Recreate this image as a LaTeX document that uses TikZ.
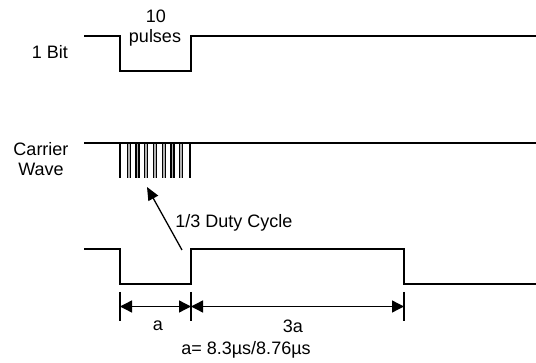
\documentclass[tikz,border=0pt]{standalone}
\usepackage{fontspec}
\setmainfont{Liberation Sans}
\usetikzlibrary{arrows.meta}
\begin{document}
\begin{tikzpicture}[x=1pt,y=-1pt,
  wave/.style={line width=1.5pt, line join=miter},
  lbl/.style={font=\fontsize{18}{21}\selectfont, inner sep=0pt},
  tick/.style={line width=1.2pt},
  dim/.style={line width=1.4pt,{Triangle[length=12pt,width=12pt]}-{Triangle[length=12pt,width=12pt]}},
  pointer/.style={line width=1.3pt,-{Triangle[length=13pt,width=11pt]}}]
\useasboundingbox (0,0) rectangle (536,363);
% top: 1 bit
\draw[wave] (84,36) -- (120,36) -- (120,71) -- (191,71) -- (191,36) -- (536,36);
\node[lbl] (ten) at (156,16) {10};
\node[lbl] (pulses) at (155,38) {pulses};
\node[lbl] (onebit) at (50,52) {1 Bit};
% carrier wave
\draw[wave] (84,143) -- (536,143);
\draw[line width=1.3pt] (120,143) -- (120,178);
\draw[line width=1.3pt] (190,143) -- (190,178);
\foreach \k in {1,...,7}{
  \pgfmathsetmacro{\xx}{120+\k*8.75}
  \draw[line width=1.2pt, fill=gray!60] (\xx-1.5,178) -- (\xx-1.5,143) -- (\xx+1.5,143) -- (\xx+1.5,178);
}
\node[lbl] (carrier) at (41,149) {Carrier};
\node[lbl] (wavetxt) at (41,169) {Wave};
% duty cycle pointer
\node[lbl] (duty) at (234,223) {1/3 Duty Cycle};
\coordinate (ptail) at (182,250);
\coordinate (ptip) at (147,187);
\draw[pointer] (ptail) -- (ptip);
% bottom waveform
\draw[wave] (84,249) -- (120,249) -- (120,284) -- (191,284) -- (191,249) -- (404,249) -- (404,284) -- (536,284);
% dimensions
\coordinate (t1) at (120,306.5);
\coordinate (t2) at (191,306.5);
\coordinate (t3) at (404,306.5);
\draw[tick] (120,292) -- (120,321);
\draw[tick] (191,292) -- (191,321);
\draw[tick] (404,292) -- (404,321);
\draw[dim] (t1) -- (t2);
\draw[dim] (t2) -- (t3);
\node[lbl] (a) at (158,326) {a};
\node[lbl] (threea) at (293,326) {3a};
\node[lbl] (eq) at (246,350) {a= 8.3µs/8.76µs};
\end{tikzpicture}
\end{document}
